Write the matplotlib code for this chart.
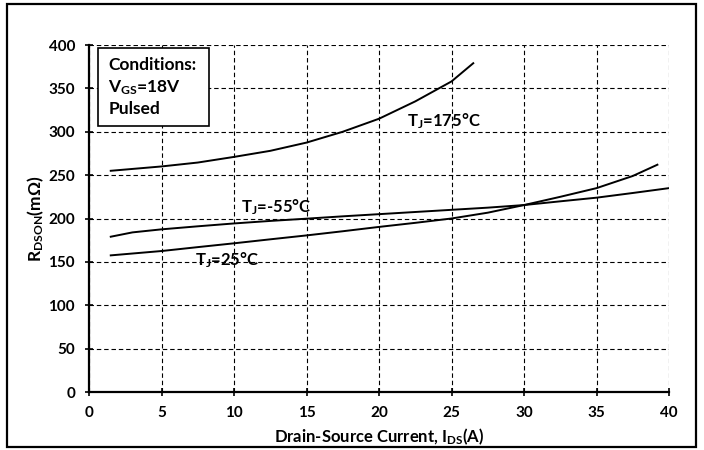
import matplotlib
matplotlib.use("Agg")
import matplotlib.pyplot as plt
from matplotlib.patches import Rectangle

plt.rcParams['font.family'] = ['Lato', 'DejaVu Sans']
plt.rcParams['font.weight'] = 'bold'
plt.rcParams['mathtext.fontset'] = 'custom'
plt.rcParams['mathtext.rm'] = 'Lato:bold'
plt.rcParams['mathtext.it'] = 'Lato:bold'
plt.rcParams['mathtext.bf'] = 'Lato:bold'

# R_DS(on) vs drain current at three junction temperatures
ids_175 = [1.5, 5, 7.5, 10, 12.5, 15, 17.5, 20, 22.5, 25, 26.5]
rds_175 = [255, 260, 264.5, 271, 278, 287.5, 300, 315, 335, 358, 379]

ids_m55 = [1.5, 3, 5, 7.5, 10, 12.5, 15, 17.5, 20, 22.5, 25, 27.5, 30, 32.5, 35, 37.5, 40]
rds_m55 = [179, 184, 187.5, 191, 194.3, 197.2, 199.8, 202.5, 205, 207.5, 210, 212.5,
           215.5, 219.8, 224, 229.4, 235]

ids_25 = [1.5, 5, 7.5, 10, 12.5, 15, 17.5, 20, 22.5, 25, 27.5, 30, 32.5, 35, 37.5, 39.2]
rds_25 = [157.5, 162.5, 167, 171.4, 176, 180.5, 185.3, 190.3, 195, 200, 206.7, 215.5,
          225, 235, 249, 262]

x_ticks = [0, 5, 10, 15, 20, 25, 30, 35, 40]
y_ticks = [0, 50, 100, 150, 200, 250, 300, 350, 400]

fig = plt.figure(figsize=(7.04, 4.5), dpi=100)
ax = fig.add_axes([89/704, 58/450, 580/704, 347/450])

# outer frame around the whole figure
fig.patches.append(Rectangle((7/704, 3/450), 689/704, 443/450, transform=fig.transFigure,
                             fill=False, edgecolor='black', linewidth=1.6))

ax.plot(ids_175, rds_175, color='black', lw=1.4, zorder=3)
ax.plot(ids_m55, rds_m55, color='black', lw=1.4, zorder=3)
ax.plot(ids_25, rds_25, color='black', lw=1.4, zorder=3)

ax.set_xlim(0, 40)
ax.set_ylim(0, 400)
ax.set_xticks(x_ticks)
ax.set_yticks(y_ticks)
ax.grid(True, color='black', linestyle=(0, (4, 2.6)), linewidth=0.8)
ax.set_axisbelow(True)

for s in ['top', 'right']:
    ax.spines[s].set_visible(False)
for s in ['left', 'bottom']:
    ax.spines[s].set_linewidth(1.6)

ax.tick_params(direction='inout', length=6, width=1.2, labelsize=11, pad=7)
for lbl in ax.get_xticklabels() + ax.get_yticklabels():
    lbl.set_fontweight('bold')

ax.set_xlabel("Drain-Source Current, I$_\\mathrm{DS}$(A)", fontsize=12, fontweight='bold')
ax.set_ylabel("R$_\\mathrm{DSON}$(mΩ)", fontsize=12.5, fontweight='bold')
ax.xaxis.set_label_coords(0.5, -0.1)
ax.yaxis.set_label_coords(-0.075, 0.5)

# conditions box
ax.add_patch(Rectangle((0.64, 307), 7.64, 89.2, facecolor='white', edgecolor='black',
                       linewidth=1.2, zorder=4))
ax.text(1.33, 377, "Conditions:", fontsize=12.5, fontweight='bold', va='center', zorder=5)
ax.text(1.33, 350.4, "V$_\\mathrm{GS}$=18V", fontsize=12.5, fontweight='bold', va='center', zorder=5)
ax.text(1.33, 326.2, "Pulsed", fontsize=12.5, fontweight='bold', va='center', zorder=5)

# curve labels
ax.text(21.9, 312, "T$_\\mathrm{J}$=175°C", fontsize=12, fontweight='bold', va='center', zorder=5)
ax.text(10.5, 212.7, "T$_\\mathrm{J}$=-55°C", fontsize=12, fontweight='bold', va='center', zorder=5)
ax.text(7.3, 152, "T$_\\mathrm{J}$=25°C", fontsize=12, fontweight='bold', va='center', zorder=5)

fig.savefig("out.png", dpi=100)
